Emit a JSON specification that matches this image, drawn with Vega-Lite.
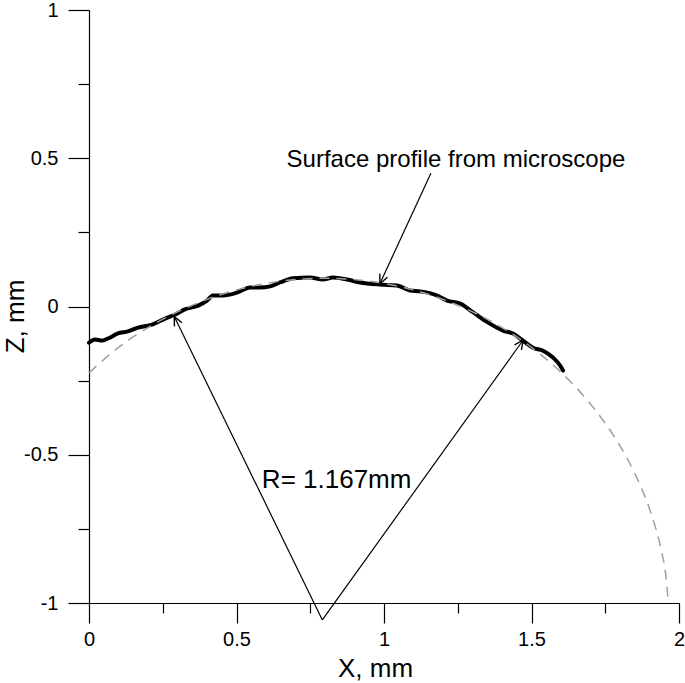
{
  "$schema": "https://vega.github.io/schema/vega-lite/v6.json",
  "width": 590,
  "height": 593,
  "autosize": {"type": "none"},
  "padding": {"left": 89, "top": 10, "right": 6, "bottom": 80},
  "background": "white",
  "config": {
    "view": {"stroke": null},
    "font": "Liberation Sans",
    "axis": {
      "domainColor": "black",
      "domainWidth": 1.2,
      "tickColor": "black",
      "tickWidth": 1.2,
      "grid": false,
      "labelColor": "black",
      "labelFont": "Liberation Sans",
      "labelFontSize": 20,
      "titleFont": "Liberation Sans",
      "titleFontSize": 26,
      "titleFontWeight": "normal",
      "titleColor": "black",
      "labelFlush": false,
      "labelOverlap": false
    }
  },
  "datasets": {
    "profile": [
      {"x": 0, "z": -0.122}, {"x": 0.02, "z": -0.111}, {"x": 0.044, "z": -0.115}, {"x": 0.064, "z": -0.108},
      {"x": 0.098, "z": -0.091}, {"x": 0.132, "z": -0.084}, {"x": 0.166, "z": -0.071}, {"x": 0.214, "z": -0.061},
      {"x": 0.258, "z": -0.041}, {"x": 0.292, "z": -0.027}, {"x": 0.325, "z": -0.01}, {"x": 0.37, "z": 0.003},
      {"x": 0.4, "z": 0.02}, {"x": 0.42, "z": 0.037}, {"x": 0.454, "z": 0.037}, {"x": 0.502, "z": 0.047},
      {"x": 0.546, "z": 0.064}, {"x": 0.58, "z": 0.064}, {"x": 0.614, "z": 0.068}, {"x": 0.647, "z": 0.081},
      {"x": 0.692, "z": 0.095}, {"x": 0.749, "z": 0.098}, {"x": 0.793, "z": 0.091}, {"x": 0.827, "z": 0.098},
      {"x": 0.875, "z": 0.091}, {"x": 0.919, "z": 0.081}, {"x": 0.986, "z": 0.074}, {"x": 1.044, "z": 0.071},
      {"x": 1.088, "z": 0.054}, {"x": 1.122, "z": 0.051}, {"x": 1.18, "z": 0.037}, {"x": 1.214, "z": 0.02},
      {"x": 1.258, "z": 0.01}, {"x": 1.3, "z": -0.018}, {"x": 1.349, "z": -0.052}, {"x": 1.403, "z": -0.081},
      {"x": 1.437, "z": -0.091}, {"x": 1.471, "z": -0.115}, {"x": 1.505, "z": -0.139}, {"x": 1.539, "z": -0.149},
      {"x": 1.573, "z": -0.172}, {"x": 1.597, "z": -0.199}, {"x": 1.607, "z": -0.216}
    ],
    "circle": [
      {"x": 0, "z": -0.224}, {"x": 0.1, "z": -0.138}, {"x": 0.2, "z": -0.071}, {"x": 0.3, "z": -0.018},
      {"x": 0.4, "z": 0.024}, {"x": 0.5, "z": 0.056}, {"x": 0.6, "z": 0.078}, {"x": 0.7, "z": 0.091},
      {"x": 0.8, "z": 0.095}, {"x": 0.9, "z": 0.091}, {"x": 1.0, "z": 0.078}, {"x": 1.1, "z": 0.056},
      {"x": 1.2, "z": 0.024}, {"x": 1.3, "z": -0.018}, {"x": 1.4, "z": -0.071}, {"x": 1.5, "z": -0.138},
      {"x": 1.6, "z": -0.222}, {"x": 1.65, "z": -0.272}, {"x": 1.7, "z": -0.329}, {"x": 1.75, "z": -0.394},
      {"x": 1.8, "z": -0.47}, {"x": 1.85, "z": -0.563}, {"x": 1.9, "z": -0.682}, {"x": 1.92, "z": -0.744},
      {"x": 1.94, "z": -0.822}, {"x": 1.955, "z": -0.905}, {"x": 1.963, "z": -0.99}
    ],
    "segments": [
      {"x": 0.791, "z": -1.057, "x2": 0.289, "z2": -0.034},
      {"x": 0.791, "z": -1.057, "x2": 1.472, "z2": -0.113},
      {"x": 1.159, "z": 0.449, "x2": 0.986, "z2": 0.077}
    ]
  },
  "layer": [
    {
      "data": {"name": "profile"},
      "mark": {"type": "line", "color": "black", "strokeWidth": 4, "strokeJoin": "round", "strokeCap": "round", "interpolate": "monotone"},
      "encoding": {
        "x": {
          "field": "x", "type": "quantitative",
          "scale": {"domain": [0, 2], "nice": false, "zero": false},
          "axis": {
            "orient": "bottom",
            "values": [0, 0.25, 0.5, 0.75, 1, 1.25, 1.5, 1.75, 2],
            "tickSize": {"condition": {"test": "abs(datum.value * 2 - round(datum.value * 2)) < 0.001", "value": 20}, "value": 10},
            "labelExpr": "abs(datum.value * 2 - round(datum.value * 2)) < 0.001 ? '' + datum.value : ''",
            "labelPadding": 6,
            "title": "X, mm",
            "titleX": 286,
            "titleY": 73,
            "titleBaseline": "alphabetic",
            "titleAlign": "center"
          }
        },
        "y": {
          "field": "z", "type": "quantitative",
          "scale": {"domain": [-1, 1], "nice": false, "zero": false},
          "axis": {
            "orient": "left",
            "values": [-1, -0.75, -0.5, -0.25, 0, 0.25, 0.5, 0.75, 1],
            "tickSize": {"condition": {"test": "abs(datum.value * 2 - round(datum.value * 2)) < 0.001", "value": 21}, "value": 11},
            "labelExpr": "abs(datum.value * 2 - round(datum.value * 2)) < 0.001 ? '' + datum.value : ''",
            "labelPadding": 10,
            "title": "Z, mm",
            "titleAngle": -90,
            "titleX": -66,
            "titleY": 306,
            "titleBaseline": "alphabetic",
            "titleAlign": "center"
          }
        }
      }
    },
    {
      "data": {"name": "circle"},
      "mark": {"type": "line", "color": "#a0a0a0", "strokeWidth": 1.5, "strokeDash": [10, 7], "interpolate": "monotone"},
      "encoding": {
        "x": {"field": "x", "type": "quantitative"},
        "y": {"field": "z", "type": "quantitative"}
      }
    },
    {
      "data": {"name": "segments"},
      "mark": {"type": "rule", "color": "black", "strokeWidth": 1.2},
      "encoding": {
        "x": {"field": "x", "type": "quantitative"},
        "y": {"field": "z", "type": "quantitative"},
        "x2": {"field": "x2"},
        "y2": {"field": "z2"}
      }
    },
    {
      "data": {"values": [{"x": 0.289, "z": -0.034}]},
      "mark": {"type": "point", "shape": "M-0.42,0.9L0,0L0.42,0.9", "size": 400, "filled": false, "stroke": "black", "strokeWidth": 1.4, "angle": 334, "opacity": 1},
      "encoding": {
        "x": {"field": "x", "type": "quantitative"},
        "y": {"field": "z", "type": "quantitative"}
      }
    },
    {
      "data": {"values": [{"x": 1.472, "z": -0.113}]},
      "mark": {"type": "point", "shape": "M-0.42,0.9L0,0L0.42,0.9", "size": 400, "filled": false, "stroke": "black", "strokeWidth": 1.4, "angle": 35.7, "opacity": 1},
      "encoding": {
        "x": {"field": "x", "type": "quantitative"},
        "y": {"field": "z", "type": "quantitative"}
      }
    },
    {
      "data": {"values": [{"x": 0.986, "z": 0.077}]},
      "mark": {"type": "point", "shape": "M-0.42,0.9L0,0L0.42,0.9", "size": 400, "filled": false, "stroke": "black", "strokeWidth": 1.4, "angle": 204.8, "opacity": 1},
      "encoding": {
        "x": {"field": "x", "type": "quantitative"},
        "y": {"field": "z", "type": "quantitative"}
      }
    },
    {
      "data": {"values": [{"x": 1.244, "z": 0.47, "label": "Surface profile from microscope"}]},
      "mark": {"type": "text", "font": "Liberation Sans", "fontSize": 24, "align": "center", "baseline": "alphabetic", "color": "black"},
      "encoding": {
        "x": {"field": "x", "type": "quantitative"},
        "y": {"field": "z", "type": "quantitative"},
        "text": {"field": "label"}
      }
    },
    {
      "data": {"values": [{"x": 0.586, "z": -0.611, "label": "R= 1.167mm"}]},
      "mark": {"type": "text", "font": "Liberation Sans", "fontSize": 26, "align": "left", "baseline": "alphabetic", "color": "black"},
      "encoding": {
        "x": {"field": "x", "type": "quantitative"},
        "y": {"field": "z", "type": "quantitative"},
        "text": {"field": "label"}
      }
    }
  ]
}
